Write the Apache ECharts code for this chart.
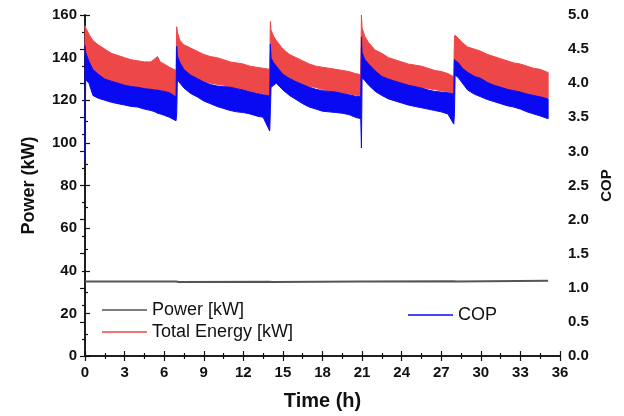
<!DOCTYPE html>
<html>
<head>
<meta charset="utf-8">
<script src="https://cdn.jsdelivr.net/npm/echarts@6.0.0/dist/echarts.min.js"></script>
<style>
  html, body { margin: 0; padding: 0; background: #fff; }
  #chart { width: 624px; height: 416px; }
</style>
</head>
<body>
<div id="chart"></div>
<script>
// time (h) of each envelope sample, five runs of ~7 h
var timeH = [
  0, 0.05, 0.3, 0.6, 1, 1.5, 2, 2.5, 3, 3.5, 4, 4.5, 5, 5.3, 5.5, 5.7, 6, 6.4, 6.9,
  6.95, 7.0, 7.2, 7.5, 8, 8.5, 9, 9.5, 10, 10.5, 11, 11.5, 12, 12.5, 13, 13.5, 14.0,
  14.05, 14.1, 14.3, 14.5, 15, 15.5, 16, 16.5, 17, 17.5, 18, 18.5, 19, 19.5, 20, 20.5, 20.9,
  20.95, 21.0, 21.2, 21.5, 22, 22.5, 23, 23.5, 24, 24.5, 25, 25.5, 26, 26.5, 27, 27.5, 27.95,
  28.0, 28.05, 28.3, 28.6, 29, 29.5, 30, 30.5, 31, 31.5, 32, 32.5, 33, 33.5, 34, 34.5, 35.1
];
// total energy [kW], upper / lower edge of the noisy band
var energyHi = [
  155, 154, 151, 148, 146, 144, 142, 141, 140, 139, 138.5, 138, 138, 139.5, 140.5, 138, 137, 135.5, 134,
  154.5, 152, 148, 146, 144.5, 143, 141.5, 140.5, 140, 139, 138, 137.5, 137, 136, 135.5, 135, 134.5,
  157, 153, 150, 148, 144, 141.5, 140, 138.5, 137, 136, 135.5, 135, 134.5, 134, 133.5, 132.5, 132,
  160, 154, 150, 147, 143.5, 142, 140, 139, 138, 137, 136.5, 136, 135, 134, 133.5, 132.5, 131,
  150, 150.5, 149, 147, 145, 144, 143, 141.5, 140.5, 139.5, 138.5, 137.5, 137, 136, 135, 134.5, 133
];
var energyLo = [
  142, 140, 138, 134, 132, 130, 129, 128, 127, 126.5, 126, 125.5, 125, 125, 125, 124.5, 124, 123.5, 122,
  142, 140, 137, 134, 132, 130.5, 129, 128, 127.5, 127, 126, 125.5, 125, 124, 123.5, 123, 122,
  142, 138, 137, 135, 132, 130, 128.5, 127.5, 126.5, 126, 125, 124.5, 124, 123.5, 123, 122.5, 122,
  144, 140, 138, 135, 133, 131.5, 130, 129, 128, 127, 126.5, 126, 125.5, 125, 124.5, 124, 123,
  138, 137.5, 136.5, 134, 132, 130, 129.5, 127.5, 126.5, 125.5, 124.5, 124, 123.5, 122.5, 122, 121.5, 121
];
// COP, upper / lower edge of the noisy band
var copHi = [
  4.55, 4.45, 4.32, 4.2, 4.13, 4.06, 4.03, 4.0, 3.97, 3.95, 3.94, 3.92, 3.91, 3.9, 3.9, 3.89, 3.88, 3.86, 3.8,
  4.54, 4.4, 4.3, 4.2, 4.12, 4.07, 4.02, 3.98, 3.96, 3.95, 3.94, 3.92, 3.9, 3.87, 3.85, 3.83, 3.81,
  4.57, 4.37, 4.3, 4.25, 4.13, 4.07, 4.02, 3.98, 3.94, 3.91, 3.89, 3.88, 3.87, 3.85, 3.83, 3.81, 3.8,
  4.68, 4.45, 4.35, 4.28, 4.18, 4.1, 4.06, 4.03, 4.0, 3.97, 3.95, 3.93, 3.9, 3.88, 3.87, 3.86, 3.84,
  4.35, 4.33, 4.3, 4.22, 4.16, 4.1, 4.07, 4.01, 3.97, 3.94, 3.91, 3.89, 3.87, 3.84, 3.82, 3.8, 3.77
];
var copLo = [
  2.85, 4.05, 4.0, 3.82, 3.78, 3.75, 3.72, 3.7, 3.68, 3.66, 3.65, 3.62, 3.6, 3.58, 3.56, 3.55, 3.53, 3.5, 3.45,
  3.55, 4.05, 4.0, 3.93, 3.85, 3.8, 3.74, 3.7, 3.66, 3.63, 3.6, 3.58, 3.57, 3.55, 3.52, 3.5, 3.3,
  3.6, 3.94, 3.97, 4.0, 3.9, 3.82, 3.76, 3.7, 3.65, 3.62, 3.59, 3.58, 3.57, 3.56, 3.54, 3.5, 3.48,
  3.05, 4.08, 4.04, 3.97, 3.88, 3.82, 3.77, 3.74, 3.71, 3.68, 3.66, 3.64, 3.62, 3.6, 3.58, 3.55, 3.4,
  3.55, 4.12, 4.08, 4.0, 3.9, 3.84, 3.8, 3.76, 3.73, 3.7, 3.67, 3.65, 3.62, 3.58, 3.55, 3.52, 3.48
];
// compressor power [kW]
var powerT = [0, 6.9, 6.95, 7.1, 13.95, 14.05, 14.2, 20.9, 20.95, 21.1, 27.95, 28.0, 28.15, 35.1];
var powerKW = [34.9, 35.0, 34.2, 34.7, 34.8, 34.3, 34.7, 35.0, 34.5, 34.9, 35.1, 34.5, 35.0, 35.3];

var FONT = 'Arial, "Liberation Sans", sans-serif';
var RED = '#ee4747';
var BLUE = '#0a0af2';

function pairs(xs, ys) {
  return xs.map(function (x, i) { return [x, ys[i]]; });
}

// band between hi and lo, drawn once as one polygon through the axis scales
function bandSeries(name, yIdx, hi, lo, color) {
  return {
    name: name, type: 'custom', yAxisIndex: yIdx,
    data: timeH.map(function (t, i) { return [t, hi[i], lo[i]]; }),
    encode: { x: 0, y: [1, 2] },
    itemStyle: { color: color },
    renderItem: function (params, api) {
      if (params.dataIndex !== 0) return null;
      var top = [], bot = [];
      for (var i = 0; i < timeH.length; i++) {
        top.push(api.coord([timeH[i], hi[i]]));
        bot.unshift(api.coord([timeH[i], lo[i]]));
      }
      return {
        type: 'polygon',
        shape: { points: top.concat(bot) },
        style: { fill: color, stroke: color, lineWidth: 1 }
      };
    }
  };
}

var chart = echarts.init(document.getElementById('chart'));

var tickLabel = { fontFamily: FONT, fontWeight: 'bold', fontSize: 15, color: '#111' };
var axLine = { show: true, lineStyle: { color: '#111', width: 1.5 } };
var tick = { inside: true, length: 5, lineStyle: { color: '#111', width: 1.2 } };
var minor = { show: true, splitNumber: 2, length: 3, lineStyle: { color: '#111', width: 1.2 } };

var option = {
  animation: false,
  backgroundColor: '#fff',
  grid: { left: 85, right: 64, top: 15, bottom: 56 },
  legend: [
    {
      data: ['Power [kW]', 'Total Energy [kW]'],
      orient: 'vertical',
      left: 97, top: 296,
      icon: 'rect', itemWidth: 45, itemHeight: 1.5, itemGap: 4,
      textStyle: { fontFamily: FONT, fontSize: 18, color: '#111' }
    },
    {
      data: ['COP'],
      left: 403, top: 301,
      icon: 'rect', itemWidth: 45, itemHeight: 1.5,
      textStyle: { fontFamily: FONT, fontSize: 18, color: '#111' }
    }
  ],
  xAxis: [
    {
      type: 'value', min: 0, max: 36, interval: 3, position: 'bottom',
      name: 'Time (h)', nameLocation: 'middle', nameGap: 35,
      nameTextStyle: { fontFamily: FONT, fontWeight: 'bold', fontSize: 20, color: '#111' },
      axisLine: axLine, axisTick: tick, minorTick: minor,
      axisLabel: Object.assign({ margin: 9 }, tickLabel),
      splitLine: { show: false }
    },
    {
      type: 'value', min: 0, max: 36, interval: 3, position: 'top',
      axisLine: axLine, axisTick: tick, minorTick: minor,
      axisLabel: { show: false },
      splitLine: { show: false }
    }
  ],
  yAxis: [
    {
      type: 'value', min: 0, max: 160, interval: 20, position: 'left',
      name: 'Power (kW)', nameLocation: 'middle', nameGap: 47, nameRotate: 90,
      nameTextStyle: { fontFamily: FONT, fontWeight: 'bold', fontSize: 18, color: '#111' },
      axisLine: axLine, axisTick: tick, minorTick: minor,
      axisLabel: Object.assign({ margin: 8 }, tickLabel),
      splitLine: { show: false }
    },
    {
      type: 'value', min: 0, max: 5, interval: 0.5, position: 'right',
      name: 'COP', nameLocation: 'middle', nameGap: 38, nameRotate: 90,
      nameTextStyle: { fontFamily: FONT, fontWeight: 'bold', fontSize: 15, color: '#111' },
      axisLine: axLine, axisTick: tick, minorTick: minor,
      axisLabel: Object.assign({ margin: 8, formatter: function (v) { return v.toFixed(1); } }, tickLabel),
      splitLine: { show: false }
    }
  ],
  series: [
    bandSeries('Total Energy [kW]', 0, energyHi, energyLo, RED),
    bandSeries('COP', 1, copHi, copLo, BLUE),
    {
      name: 'Power [kW]', type: 'line', yAxisIndex: 0,
      data: pairs(powerT, powerKW), showSymbol: false, color: '#555',
      lineStyle: { color: '#555', width: 2 }
    }
  ]
};

chart.setOption(option);
</script>
</body>
</html>
